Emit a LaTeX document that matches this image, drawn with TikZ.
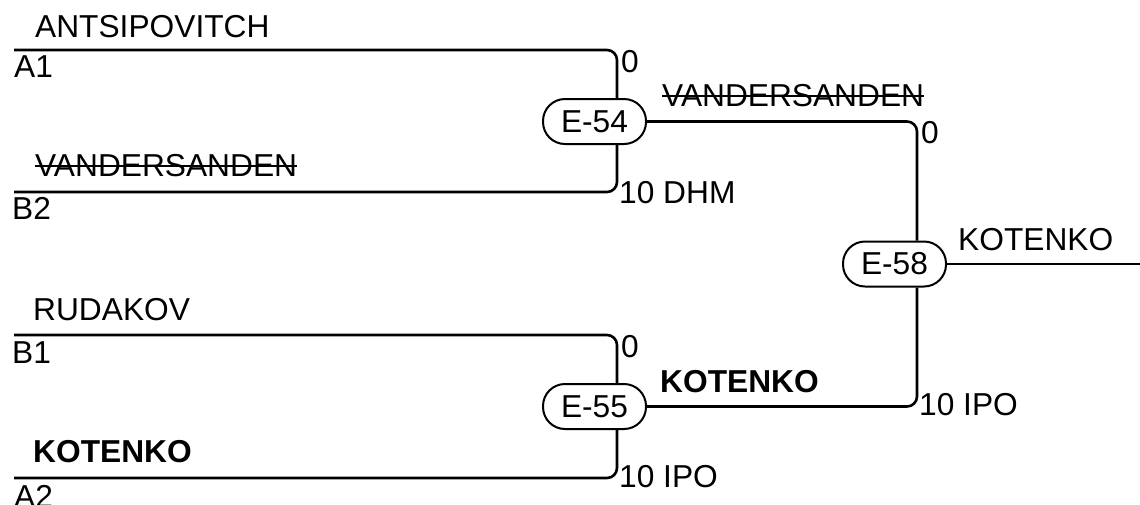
\documentclass[tikz,border=0pt]{standalone}
\usepackage{fontspec}
\setmainfont{Liberation Sans}
\begin{document}
\begin{tikzpicture}[x=1pt,y=-1pt,
  wire/.style={line width=2.6pt, rounded corners=10pt},
  strike/.style={line width=2pt},
  match/.style={draw, line width=2pt, rounded corners=22pt, minimum width=103pt, minimum height=45pt, inner sep=0pt, font=\fontsize{31.7}{32}\selectfont},
  txt/.style={anchor=base west, inner sep=0pt, font=\fontsize{31.7}{32}\selectfont},
  btxt/.style={txt, font=\fontsize{31.7}{32}\selectfont\bfseries}]
\useasboundingbox (0,0) rectangle (1140,504);
% match nodes
\node[match] (E54) at (594.5,121.5) {E-54};
\node[match] (E55) at (594.5,406.5) {E-55};
\node[match] (E58) at (894.5,264) {E-58};
% entry coordinates
\coordinate (A1) at (14,50);
\coordinate (B2) at (14,192);
\coordinate (B1) at (14,335);
\coordinate (A2) at (14,478);
\coordinate (W) at (1140,264);
% connectors
\draw[wire] (A1) -| ([xshift=22.5pt]E54.north);
\draw[wire] (B2) -| ([xshift=22.5pt]E54.south);
\draw[wire] (B1) -| ([xshift=22.5pt]E55.north);
\draw[wire] (A2) -| ([xshift=22.5pt]E55.south);
\draw[wire] (E54.east) -| ([xshift=22.5pt]E58.north);
\draw[wire] (E55.east) -| ([xshift=22.5pt]E58.south);
\draw[wire] (E58.east) -- (E58.east -| W);
% names
\node[txt] (nA1) at (35,37) {ANTSIPOVITCH};
\node[txt] (cA1) at (14,77) {A1};
\node[txt] (nB2) at (35,176) {VANDERSANDEN};
\node[txt] (cB2) at (12,219) {B2};
\node[txt] (nB1) at (33,320) {RUDAKOV};
\node[txt] (cB1) at (12,363) {B1};
\node[btxt] (nA2) at (33,462) {KOTENKO};
\node[txt] (cA2) at (14,507) {A2};
% scores
\node[txt] (s1) at (621,72) {0};
\node[txt] (s2) at (619,203) {10 DHM};
\node[txt] (s3) at (621,357) {0};
\node[txt] (s4) at (619,487) {10 IPO};
\node[txt] (s5) at (921,143) {0};
\node[txt] (s6) at (919,415) {10 IPO};
% winners
\node[txt] (w54) at (662,106) {VANDERSANDEN};
\node[btxt] (w55) at (660,392) {KOTENKO};
\node[txt] (w58) at (958,250) {KOTENKO};
% strike-through
\draw[strike] ([yshift=10pt]nB2.base west) -- ([yshift=10pt]nB2.base east);
\draw[strike] ([yshift=10pt]w54.base west) -- ([yshift=10pt]w54.base east);
\end{tikzpicture}
\end{document}
